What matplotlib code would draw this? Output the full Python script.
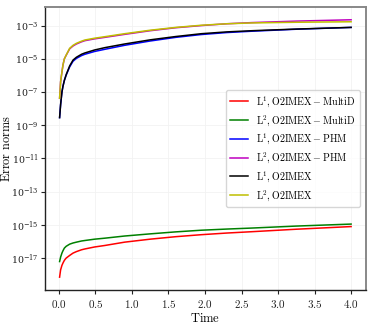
import numpy as np
import matplotlib
matplotlib.use("Agg")
import matplotlib.pyplot as plt
from matplotlib.ticker import FixedLocator, LogFormatterMathtext, NullLocator, FuncFormatter

plt.rcParams['mathtext.fontset'] = 'cm'
plt.rcParams['font.family'] = 'serif'
plt.rcParams['font.serif'] = ['DejaVu Serif']

# time samples and log10 of the error norms
t = [0.01, 0.024, 0.042, 0.056, 0.075, 0.10, 0.148, 0.194, 0.24, 0.31, 0.356,
     0.49, 0.63, 0.9, 1.25, 1.6, 1.95, 2.3, 2.64, 3.25, 4.0]
l1_multid = [-18.16, -17.72, -17.45, -17.31, -17.15, -17.01, -16.85, -16.71, -16.62, -16.51, -16.46,
             -16.34, -16.25, -16.05, -15.87, -15.72, -15.6, -15.5, -15.42, -15.27, -15.11]
l2_multid = [-17.22, -16.95, -16.71, -16.57, -16.41, -16.3, -16.17, -16.1, -16.05, -15.98, -15.95,
             -15.87, -15.81, -15.68, -15.55, -15.43, -15.33, -15.26, -15.2, -15.08, -14.96]
l1_phm = [-8.54, -7.75, -7.0, -6.65, -6.3, -5.98, -5.48, -5.14, -4.97, -4.8, -4.72,
          -4.55, -4.42, -4.18, -3.92, -3.7, -3.53, -3.41, -3.33, -3.21, -3.10]
l2_phm = [-7.37, -6.37, -5.8, -5.37, -5.0, -4.78, -4.39, -4.22, -4.1, -3.97, -3.9,
          -3.79, -3.70, -3.52, -3.30, -3.12, -2.99, -2.88, -2.81, -2.72, -2.64]
l1_o2 = [-8.54, -7.75, -7.0, -6.65, -6.3, -5.95, -5.42, -5.07, -4.9, -4.72, -4.64,
         -4.46, -4.32, -4.1, -3.85, -3.65, -3.48, -3.37, -3.30, -3.20, -3.10]
l2_o2 = [-7.37, -6.37, -5.8, -5.37, -5.0, -4.77, -4.36, -4.18, -4.06, -3.93, -3.86,
         -3.75, -3.66, -3.48, -3.27, -3.10, -2.97, -2.88, -2.83, -2.79, -2.76]

series = [
    (l1_multid, 'red', r'$\mathrm{L}^1, \mathrm{O2IMEX} - \mathrm{MultiD}$'),
    (l2_multid, 'green', r'$\mathrm{L}^2, \mathrm{O2IMEX} - \mathrm{MultiD}$'),
    (l1_phm, 'blue', r'$\mathrm{L}^1, \mathrm{O2IMEX} - \mathrm{PHM}$'),
    (l2_phm, 'm', r'$\mathrm{L}^2, \mathrm{O2IMEX} - \mathrm{PHM}$'),
    (l1_o2, 'black', r'$\mathrm{L}^1, \mathrm{O2IMEX}$'),
    (l2_o2, 'y', r'$\mathrm{L}^2, \mathrm{O2IMEX}$'),
]

fig = plt.figure(figsize=(3.69, 3.29), dpi=100)
ax = fig.add_axes([0.122, 0.1185, 0.869, 0.8605])

for vals, col, lab in series:
    ax.plot(t, 10.0 ** np.array(vals), color=col, lw=1.1, label=lab)

ax.set_yscale('log')
ax.yaxis.set_major_locator(FixedLocator(10.0 ** np.arange(-17, -2, 2)))
ax.yaxis.set_major_formatter(LogFormatterMathtext())
ax.yaxis.set_minor_locator(NullLocator())
ax.set_xticks(np.arange(0, 4.01, 0.5))
ax.xaxis.set_major_formatter(FuncFormatter(lambda v, p: r'$%.1f$' % v))

ax.grid(True, color='#f2f2f2', lw=0.6)
ax.tick_params(length=3, width=0.8, colors='#222222')
ax.tick_params(axis='x', labelsize=8, pad=2.5)
ax.tick_params(axis='y', labelsize=6.8, pad=1.5)
for s in ['top', 'right']:
    ax.spines[s].set_color('#888888')
    ax.spines[s].set_linewidth(1.4)
for s in ['left', 'bottom']:
    ax.spines[s].set_color('#222222')
    ax.spines[s].set_linewidth(1.0)

ax.set_xlabel(r'$\mathrm{Time}$', fontsize=9, labelpad=2)
ax.set_ylabel(r'$\mathrm{Error\ norms}$', fontsize=8.8)
ax.yaxis.set_label_coords(-0.1, 0.5)

ax.legend(loc='center right', fontsize=7.2, frameon=True, fancybox=True,
          handlelength=1.8, borderaxespad=0.6, labelspacing=0.4)

fig.savefig('out.png', dpi=100)
